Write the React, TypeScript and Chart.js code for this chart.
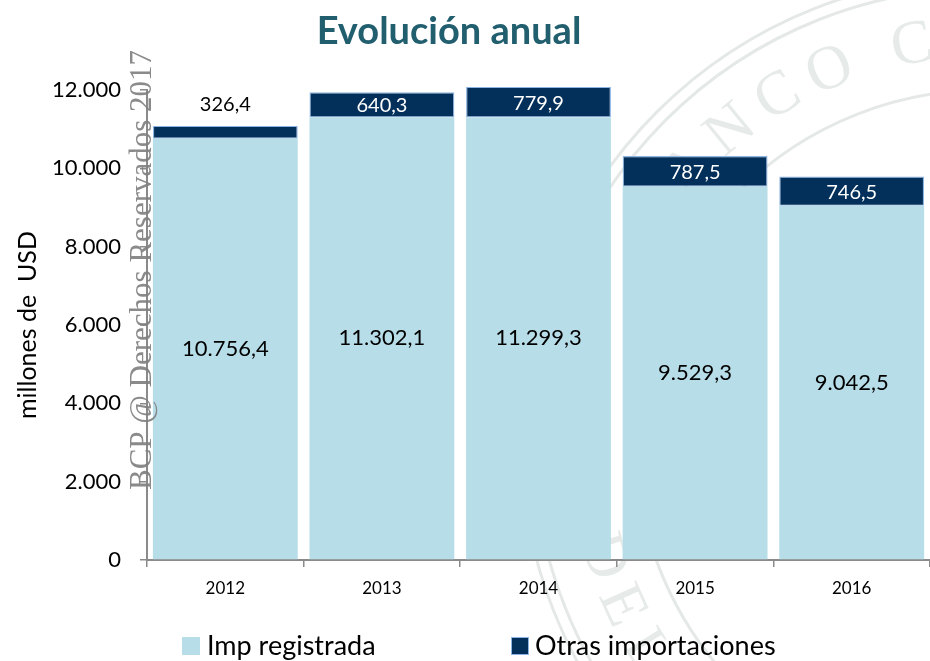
import React, { useEffect, useRef } from "react";
import { Chart, registerables } from "chart.js";

Chart.register(...registerables);

const categories = ["2012", "2013", "2014", "2015", "2016"];
const impRegistrada = [10756.4, 11302.1, 11299.3, 9529.3, 9042.5];
const otrasImportaciones = [326.4, 640.3, 779.9, 787.5, 746.5];
const yTickValues = [0, 2000, 4000, 6000, 8000, 10000, 12000];
const seriesNames = ["Imp registrada", "Otras importaciones"];
const titleText = "Evolución anual";
const yAxisTitle = "millones de  USD";
const watermarkText = "BCP @ Derechos Reservados 2017";
const sealTopText = "BANCO CENTRAL";
const sealBottomText = "DEL PARAGUAY";

const LIGHT = "#b7dde8";
const NAVY = "#03305a";
const EDGE = "#8db3e2";
const AXIS = "#8a8a8a";
const FONT = "Lato, 'Open Sans', sans-serif";

function fmt(v: number, dec: number): string {
  const s = v.toFixed(dec);
  const parts = s.split(".");
  const ip = parts[0].replace(/\B(?=(\d{3})+(?!\d))/g, ".");
  return parts[1] ? ip + "," + parts[1] : ip;
}

const DEG = Math.PI / 180;

const sealPlugin = {
  id: "seal",
  beforeDraw(chart: any) {
    const ctx = chart.ctx;
    const cx = 985;
    const cy = 440;
    ctx.save();
    ctx.strokeStyle = "#e4e9e8";
    ctx.lineWidth = 3;
    [464, 452, 350].forEach((r) => {
      ctx.beginPath();
      ctx.arc(cx, cy, r, 0, Math.PI * 2);
      ctx.stroke();
    });
    ctx.fillStyle = "#e6ebea";
    ctx.font = "62px 'Liberation Serif', serif";
    ctx.textAlign = "center";
    ctx.textBaseline = "middle";
    const r = 400;
    let a = -146 * DEG;
    for (const ch of sealTopText) {
      if (ch === " ") {
        a += 4 * DEG;
        continue;
      }
      ctx.save();
      ctx.translate(cx + r * Math.cos(a), cy + r * Math.sin(a));
      ctx.rotate(a + Math.PI / 2);
      ctx.fillText(ch, 0, 0);
      ctx.restore();
      a += 8.3 * DEG;
    }
    a = 163 * DEG;
    for (const ch of sealBottomText) {
      if (ch === " ") {
        a -= 4 * DEG;
        continue;
      }
      ctx.save();
      ctx.translate(cx + r * Math.cos(a), cy + r * Math.sin(a));
      ctx.rotate(a - Math.PI / 2);
      ctx.fillText(ch, 0, 0);
      ctx.restore();
      a -= 7.5 * DEG;
    }
    ctx.restore();
  },
};

const labelsPlugin = {
  id: "valueLabels",
  afterDatasetsDraw(chart: any) {
    const ctx = chart.ctx;
    ctx.save();
    ctx.textAlign = "center";
    ctx.textBaseline = "middle";
    ctx.font = `22px ${FONT}`;
    const m0 = chart.getDatasetMeta(0);
    m0.data.forEach((el: any, i: number) => {
      const p = el.getProps(["x", "y", "base"], true);
      ctx.fillStyle = "#000";
      ctx.fillText(fmt(impRegistrada[i], 1), p.x, (p.y + p.base) / 2);
    });
    ctx.font = `20px ${FONT}`;
    const m1 = chart.getDatasetMeta(1);
    m1.data.forEach((el: any, i: number) => {
      const p = el.getProps(["x", "y", "base"], true);
      const h = p.base - p.y;
      if (h < 22) {
        ctx.fillStyle = "#000";
        ctx.fillText(fmt(otrasImportaciones[i], 1), p.x, p.y - 21);
      } else {
        ctx.fillStyle = "#fff";
        ctx.fillText(fmt(otrasImportaciones[i], 1), p.x, (p.y + p.base) / 2 + 1);
      }
    });
    ctx.restore();
  },
};

const overlayPlugin = {
  id: "overlay",
  afterDraw(chart: any) {
    const ctx = chart.ctx;
    ctx.save();
    ctx.fillStyle = "#215e6e";
    ctx.font = `bold 38px ${FONT}`;
    ctx.textAlign = "center";
    ctx.textBaseline = "alphabetic";
    ctx.fillText(titleText, 449, 44);

    ctx.translate(143, 270);
    ctx.rotate(-Math.PI / 2);
    ctx.fillStyle = "rgba(128,128,128,0.92)";
    ctx.font = "31px 'Liberation Serif', serif";
    ctx.textAlign = "center";
    ctx.textBaseline = "middle";
    ctx.fillText(watermarkText, 0, 0);
    ctx.restore();
  },
};

export default function App() {
  const ref = useRef<HTMLCanvasElement>(null);

  useEffect(() => {
    if (!ref.current) return;
    const chart = new Chart(ref.current, {
      type: "bar",
      data: {
        labels: categories,
        datasets: [
          {
            label: seriesNames[0],
            data: impRegistrada,
            backgroundColor: LIGHT,
            borderWidth: 0,
            barPercentage: 0.925,
            categoryPercentage: 1,
            clip: false as any,
          },
          {
            label: seriesNames[1],
            data: otrasImportaciones,
            backgroundColor: NAVY,
            borderColor: EDGE,
            borderWidth: 1.2,
            borderSkipped: false,
            barPercentage: 0.925,
            categoryPercentage: 1,
            clip: false as any,
          },
        ],
      },
      options: {
        responsive: false,
        animation: false,
        layout: { padding: { left: 0, right: 0, top: 90, bottom: 61 } },
        plugins: {
          legend: { display: false },
          tooltip: { enabled: false },
          title: { display: false },
        },
        scales: {
          x: {
            stacked: true,
            afterFit: (s: any) => {
              s.height = 40;
            },
            grid: {
              display: true,
              offset: true,
              drawOnChartArea: false,
              drawTicks: true,
              tickLength: 7,
              color: AXIS,
              lineWidth: 1.5,
            },
            border: { display: true, color: AXIS, width: 2 },
            ticks: {
              color: "#000",
              font: { family: FONT, size: 17 },
              padding: 11,
            },
          },
          y: {
            stacked: true,
            min: 0,
            max: 12000,
            afterFit: (s: any) => {
              s.width = 147;
            },
            afterBuildTicks: (s: any) => {
              s.ticks = yTickValues.map((v) => ({ value: v }));
            },
            grid: {
              display: true,
              drawOnChartArea: false,
              drawTicks: true,
              tickLength: 7,
              color: AXIS,
              lineWidth: 1.5,
            },
            border: { display: true, color: AXIS, width: 2 },
            ticks: {
              color: "#000",
              font: { family: FONT, size: 22 },
              padding: 19,
              callback: (v: any) => fmt(Number(v), 0),
            },
            title: {
              display: true,
              text: yAxisTitle,
              color: "#000",
              font: { family: FONT, size: 25 },
              padding: { top: 13, bottom: 0 },
            },
          },
        },
      },
      plugins: [sealPlugin, labelsPlugin, overlayPlugin],
    });
    return () => chart.destroy();
  }, []);

  const legendText: React.CSSProperties = {
    position: "absolute",
    top: 629,
    fontFamily: FONT,
    fontSize: 27,
    lineHeight: "32px",
    color: "#000",
    whiteSpace: "nowrap",
  };

  return (
    <div
      style={{
        position: "absolute",
        left: 0,
        top: 0,
        width: 930,
        height: 661,
        overflow: "hidden",
        background: "#fff",
      }}
    >
      <canvas ref={ref} width={930} height={661} style={{ display: "block", width: 930, height: 661 }} />
      <div style={{ position: "absolute", left: 182, top: 637, width: 18, height: 18, background: LIGHT }} />
      <div style={{ ...legendText, left: 207 }}>{seriesNames[0]}</div>
      <div
        style={{
          position: "absolute",
          left: 511,
          top: 637,
          width: 18,
          height: 18,
          background: NAVY,
          border: `1px solid ${EDGE}`,
          boxSizing: "border-box",
        }}
      />
      <div style={{ ...legendText, left: 535 }}>{seriesNames[1]}</div>
    </div>
  );
}
